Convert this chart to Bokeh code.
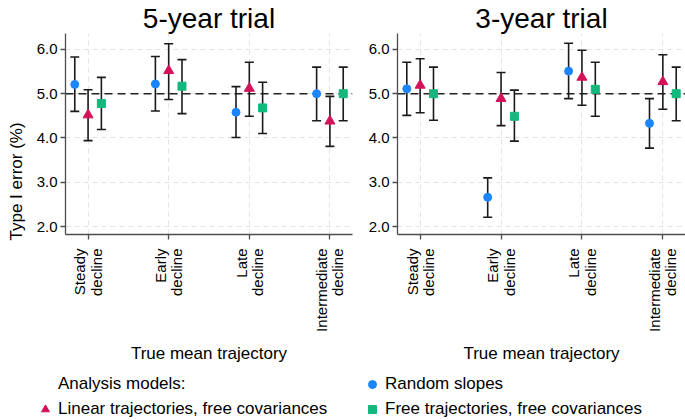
from math import pi
from bokeh.plotting import figure
from bokeh.models import (ColumnDataSource, Range1d, Whisker, Span, Title, Legend,
                          LegendItem, NumeralTickFormatter, TeeHead)
from bokeh.transform import dodge
from bokeh.layouts import column, row
from bokeh.embed import file_html
from bokeh.resources import INLINE

# ---------------- data ----------------
categories = ["Steady\ndecline", "Early\ndecline", "Late\ndecline", "Intermediate\ndecline"]
panel_titles = ["5-year trial", "3-year trial"]
y_ticks = [2.0, 3.0, 4.0, 5.0, 6.0]
nominal_rate = 5.0

legend_header = "Analysis models:"
series_names = ["Random slopes", "Linear trajectories, free covariances",
                "Free trajectories, free covariances"]

# 5-year trial
five_rs = [5.21, 5.22, 4.58, 5.00]
five_rs_lo = [4.60, 4.61, 4.01, 4.39]
five_rs_hi = [5.83, 5.84, 5.16, 5.60]
five_lin = [4.52, 5.52, 5.12, 4.38]
five_lin_lo = [3.94, 4.87, 4.49, 3.81]
five_lin_hi = [5.09, 6.13, 5.71, 4.94]
five_free = [4.78, 5.17, 4.68, 5.00]
five_free_lo = [4.19, 4.55, 4.10, 4.39]
five_free_hi = [5.37, 5.77, 5.26, 5.60]

# 3-year trial
three_rs = [5.11, 2.66, 5.51, 4.33]
three_rs_lo = [4.51, 2.21, 4.89, 3.77]
three_rs_hi = [5.71, 3.10, 6.14, 4.89]
three_lin = [5.19, 4.89, 5.37, 5.27]
three_lin_lo = [4.57, 4.28, 4.74, 4.65]
three_lin_hi = [5.79, 5.48, 5.98, 5.88]
three_free = [5.00, 4.49, 5.10, 5.00]
three_free_lo = [4.40, 3.93, 4.49, 4.39]
three_free_hi = [5.60, 5.08, 5.71, 5.60]

# ---------------- styles ----------------
FONT = "Liberation Sans"
COLORS = ["#1A85FF", "#D41159", "#14B87C"]
MARKERS = ["circle", "triangle", "square"]
SIZES = [8, 10, 8]
OFFSETS = [-0.165, 0.0, 0.165]
AXIS_COLOR = "#4d4d4d"
GRID_COLOR = "#e3e3e3"
TOP_H = 372
LEG_H = 48

sources = []


def make_panel(title, est_lists, width, min_left, min_right, ylabel=None):
    p = figure(width=width, height=TOP_H, x_range=Range1d(-0.28, 3.28),
               y_range=Range1d(1.82, 6.36), output_backend="svg",
               toolbar_location=None, min_border_left=min_left,
               min_border_right=min_right, min_border_top=0,
               min_border_bottom=138, title=title)
    p.outline_line_color = None

    p.title.text_font = FONT
    p.title.text_font_size = "28px"
    p.title.text_font_style = "normal"
    p.title.text_color = "black"
    p.title.align = "center"
    p.title.standoff = 0

    for ax in (p.xaxis[0], p.yaxis[0]):
        ax.axis_line_color = AXIS_COLOR
        ax.axis_line_width = 1.3
        ax.major_tick_line_color = AXIS_COLOR
        ax.major_tick_line_width = 1.3
        ax.major_tick_out = 5
        ax.major_tick_in = 0
        ax.minor_tick_line_color = None
        ax.major_label_text_font = FONT
        ax.major_label_text_font_size = "15px"
        ax.major_label_text_color = "black"

    p.yaxis.ticker = y_ticks
    p.yaxis.formatter = NumeralTickFormatter(format="0.0")
    p.yaxis.major_label_standoff = 3

    p.xaxis.ticker = list(range(len(categories)))
    p.xaxis.major_label_overrides = {i: c for i, c in enumerate(categories)}
    p.xaxis.major_label_orientation = pi / 2
    p.xaxis.major_label_text_line_height = 0.95
    p.xaxis.major_label_standoff = 9
    p.xaxis.axis_label = "True mean trajectory"
    p.xaxis.axis_label_text_font = FONT
    p.xaxis.axis_label_text_font_size = "17px"
    p.xaxis.axis_label_text_font_style = "normal"
    p.xaxis.axis_label_text_color = "black"
    p.xaxis.axis_label_standoff = 9

    p.xgrid.ticker = list(range(len(categories)))
    for g in (p.xgrid[0], p.ygrid[0]):
        g.grid_line_color = GRID_COLOR
        g.grid_line_dash = "5 4"
        g.grid_line_width = 1

    ref = Span(location=nominal_rate, dimension="width", line_color="#222222",
               line_dash="8 5", line_width=1.6, level="underlay")
    p.add_layout(ref)

    srcs = []
    for k, (est, lo, hi) in enumerate(est_lists):
        src = ColumnDataSource(dict(idx=list(range(len(categories))), est=est,
                                    lo=lo, hi=hi))
        srcs.append(src)
        w = Whisker(base=dodge("idx", OFFSETS[k]), upper="hi", lower="lo",
                    source=src, line_color="#1a1a1a", line_width=1.6,
                    upper_head=TeeHead(size=9, line_color="#1a1a1a", line_width=1.6),
                    lower_head=TeeHead(size=9, line_color="#1a1a1a", line_width=1.6))
        p.add_layout(w)
        p.scatter(x=dodge("idx", OFFSETS[k]), y="est", source=src,
                  marker=MARKERS[k], size=SIZES[k], fill_color=COLORS[k],
                  line_color=COLORS[k])
    sources.append(srcs)

    if ylabel:
        t = Title(text=ylabel, align="left", offset=-6, text_font=FONT,
                  text_font_size="17px", text_font_style="normal",
                  text_color="black", standoff=12, vertical_align="top")
        p.add_layout(t, "left")
    return p


p1 = make_panel(panel_titles[0],
                [(five_rs, five_rs_lo, five_rs_hi),
                 (five_lin, five_lin_lo, five_lin_hi),
                 (five_free, five_free_lo, five_free_hi)],
                width=362, min_left=65, min_right=10, ylabel="Type I error (%)")
p2 = make_panel(panel_titles[1],
                [(three_rs, three_rs_lo, three_rs_hi),
                 (three_lin, three_lin_lo, three_lin_hi),
                 (three_free, three_free_lo, three_free_hi)],
                width=323, min_left=35, min_right=0)

# ---------------- legend strip spanning both panels ----------------
pl = figure(width=685, height=LEG_H, output_backend="svg", toolbar_location=None,
            x_axis_type=None, y_axis_type=None, min_border=0,
            x_range=Range1d(0, 1), y_range=Range1d(0, 1))
pl.outline_line_color = None
pl.grid.visible = False

# hidden renderers: they only supply the legend swatches
r_header = pl.scatter(x="idx", y="est", source=sources[0][0], marker="circle",
                      size=8, fill_alpha=0, line_alpha=0, visible=False)
leg_r = []
for k in range(3):
    leg_r.append(pl.scatter(x="idx", y="est", source=sources[0][k], marker=MARKERS[k],
                            size=SIZES[k], fill_color=COLORS[k], line_color=COLORS[k],
                            visible=False))


def style_legend(lg):
    lg.label_text_font = FONT
    lg.label_text_font_size = "17px"
    lg.label_text_color = "black"
    lg.glyph_width = 20
    lg.glyph_height = 20
    lg.label_height = 20
    lg.label_standoff = 3
    lg.spacing = 5
    lg.padding = 0
    lg.margin = 0
    lg.border_line_color = None
    lg.background_fill_alpha = 0


leg1 = Legend(items=[LegendItem(label=legend_header, renderers=[r_header]),
                     LegendItem(label=series_names[1], renderers=[leg_r[1]])],
              location=(35, 1))
leg2 = Legend(items=[LegendItem(label=series_names[0], renderers=[leg_r[0]]),
                     LegendItem(label=series_names[2], renderers=[leg_r[2]])],
              location=(362, 1))
for lg in (leg1, leg2):
    style_legend(lg)
    pl.add_layout(lg)

layout = column(row(p1, p2), pl)
open("out.html", "w").write(file_html(layout, INLINE))
